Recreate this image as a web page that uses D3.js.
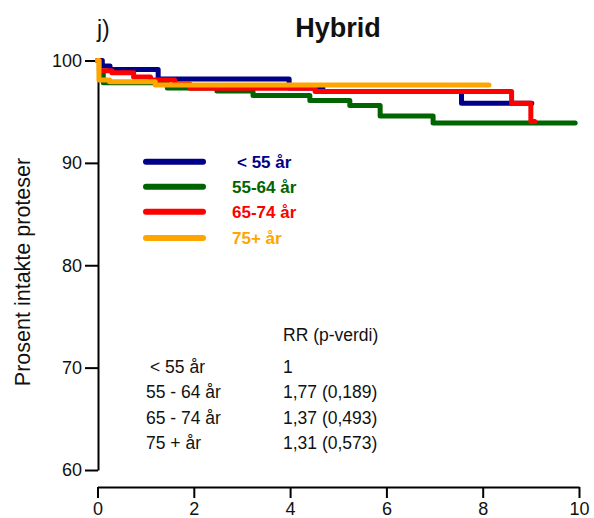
<!DOCTYPE html>
<html>
<head>
<meta charset="utf-8">
<script src="https://cdn.jsdelivr.net/npm/d3@7"></script>
<style>
  html, body { margin: 0; padding: 0; background: #fff; }
  svg { display: block; font-family: "Liberation Sans", Arial, Helvetica, sans-serif; }
</style>
</head>
<body>
<svg id="chart" width="594" height="518"></svg>
<script>
// Kaplan-Meier style curves: percent intact prostheses by age group (Hybrid)
const groupNames = ["< 55 år", "55-64 år", "65-74 år", "75+ år"];
const groupColors = ["#000088", "#006400", "#ff0000", "#ffa500"];

// event times (years) and survival (%) for each age group
const timesU55 = [0, 0.1, 0.26, 1.26, 3.98, 4.68, 7.56, 9.02];
const survU55  = [100, 99.46, 99.12, 98.20, 97.32, 96.97, 95.82, 95.82];

const times55 = [0, 0.04, 0.12, 1.45, 2.48, 3.23, 4.41, 5.24, 5.87, 6.97, 9.92];
const surv55  = [100, 98.8, 97.83, 97.32, 97.02, 96.59, 96.10, 95.61, 94.59, 93.90, 93.90];

const times65 = [0, 0.04, 0.3, 0.75, 1.1, 1.6, 1.92, 4.52, 8.6, 9.0, 9.08];
const surv65  = [100, 99.0, 98.8, 98.4, 98.1, 97.7, 97.3, 96.97, 95.82, 94.03, 94.03];

const times75 = [0, 0.03, 0.25, 1.2, 8.13];
const surv75  = [100, 98.10, 97.93, 97.61, 97.61];

// relative risk table
const rrLabels = ["< 55 år", "55 - 64 år", "65 - 74 år", "75 + år"];
const rrValues = ["1", "1,77 (0,189)", "1,37 (0,493)", "1,31 (0,573)"];

const xTicks = [0, 2, 4, 6, 8, 10];
const yTicks = [60, 70, 80, 90, 100];

const svg = d3.select("#chart");
const x = d3.scaleLinear().domain([0, 10]).range([97.5, 579]);
const y = d3.scaleLinear().domain([60, 100]).range([470, 60.5]);

// y axis
const yAxis = svg.append("g")
  .attr("transform", "translate(98,0)")
  .call(d3.axisLeft(y).tickValues(yTicks).tickSize(13).tickSizeOuter(0).tickPadding(3));
// x axis, offset below the plot
const xAxis = svg.append("g")
  .attr("transform", "translate(0,487)")
  .call(d3.axisBottom(x).tickValues(xTicks).tickSize(11).tickSizeOuter(0).tickPadding(4));

[yAxis, xAxis].forEach(g => {
  g.select(".domain").attr("stroke", "#000").attr("stroke-width", 2);
  g.selectAll(".tick line").attr("stroke", "#000").attr("stroke-width", 2);
  g.selectAll(".tick text").attr("fill", "#111").style("font-size", "18px")
    .style("font-family", "'Liberation Sans', Arial, sans-serif");
});

// curves
const series = [
  { t: times55, s: surv55, c: groupColors[1] },
  { t: timesU55, s: survU55, c: groupColors[0] },
  { t: times65, s: surv65, c: groupColors[2] },
  { t: times75, s: surv75, c: groupColors[3] }
];
const line = d3.line()
  .x(d => x(d[0]))
  .y(d => y(d[1]))
  .curve(d3.curveStepAfter);

series.forEach(ser => {
  svg.append("path")
    .datum(ser.t.map((t, i) => [t, ser.s[i]]))
    .attr("d", line)
    .attr("fill", "none")
    .attr("stroke", ser.c)
    .attr("stroke-width", 5)
    .attr("stroke-linecap", "round")
    .attr("stroke-linejoin", "round");
});

// legend
const legendY = [161.7, 186.7, 211.7, 238];
const legendTextX = [237, 232, 232, 232];
groupNames.forEach((name, i) => {
  svg.append("line")
    .attr("x1", 146).attr("x2", 203)
    .attr("y1", legendY[i]).attr("y2", legendY[i])
    .attr("stroke", groupColors[i]).attr("stroke-width", 6)
    .attr("stroke-linecap", "round");
  svg.append("text")
    .attr("x", legendTextX[i]).attr("y", legendY[i] + 6)
    .attr("fill", groupColors[i])
    .style("font-size", "17px").style("font-weight", "bold")
    .text(name);
});

// relative risk table
const tableFont = "17.5px";
svg.append("text").attr("x", 283).attr("y", 341)
  .style("font-size", tableFont).attr("fill", "#111").text("RR (p-verdi)");
const rowY = [373, 398, 423.5, 449];
rrLabels.forEach((lab, i) => {
  svg.append("text").attr("x", i === 0 ? 150 : 146).attr("y", rowY[i])
    .style("font-size", tableFont).attr("fill", "#111").text(lab);
  svg.append("text").attr("x", 283).attr("y", rowY[i])
    .style("font-size", tableFont).attr("fill", "#111").text(rrValues[i]);
});

// titles
svg.append("text").attr("x", 97).attr("y", 37)
  .style("font-size", "23px").attr("fill", "#111").text("j)");
svg.append("text").attr("x", 338).attr("y", 37).attr("text-anchor", "middle")
  .style("font-size", "27px").style("font-weight", "bold").attr("fill", "#111").text("Hybrid");
svg.append("text")
  .attr("transform", "translate(30,272) rotate(-90)")
  .attr("text-anchor", "middle")
  .style("font-size", "21.5px").attr("fill", "#111")
  .text("Prosent intakte proteser");
</script>
</body>
</html>
